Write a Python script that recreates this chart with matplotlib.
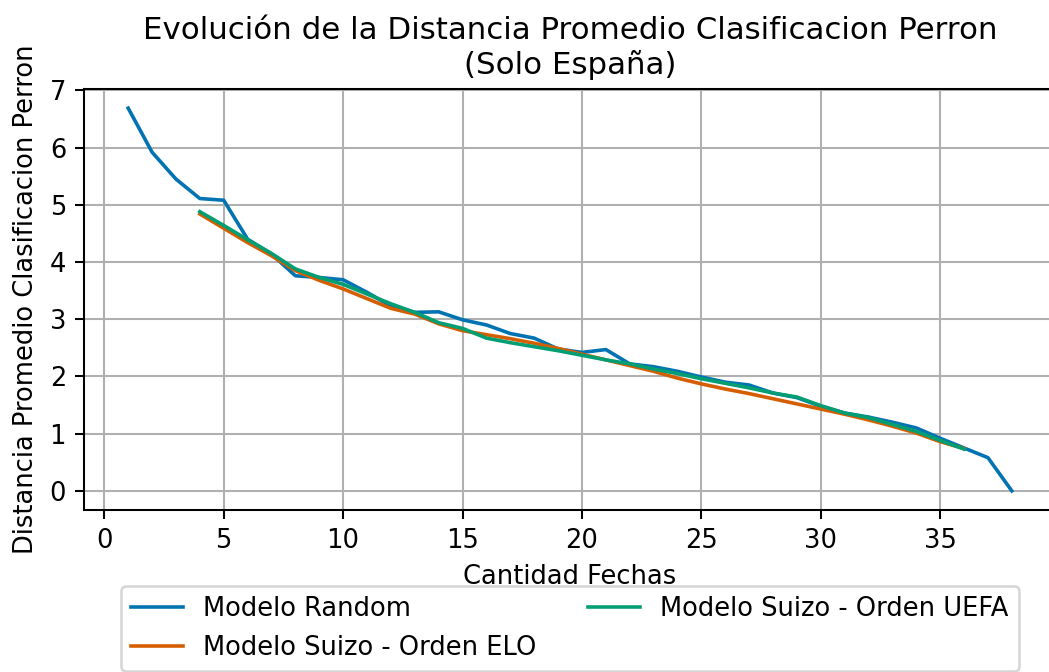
import matplotlib
matplotlib.use("Agg")
import matplotlib.pyplot as plt

fechas_random = list(range(1, 39))
random_vals = [6.69, 5.92, 5.45, 5.11, 5.08, 4.40, 4.14, 3.76, 3.73, 3.69,
               3.47, 3.23, 3.12, 3.13, 2.99, 2.90, 2.75, 2.67, 2.48, 2.42,
               2.47, 2.22, 2.17, 2.09, 1.99, 1.90, 1.85, 1.71, 1.63, 1.48,
               1.36, 1.29, 1.20, 1.10, 0.92, 0.75, 0.58, 0.00]

fechas_suizo = list(range(4, 37))
elo_vals = [4.84, 4.59, 4.34, 4.11, 3.85, 3.68, 3.53, 3.36, 3.19, 3.09,
            2.92, 2.80, 2.73, 2.66, 2.58, 2.49, 2.39, 2.29, 2.19, 2.09,
            1.97, 1.87, 1.78, 1.70, 1.61, 1.52, 1.43, 1.34, 1.24, 1.13,
            1.01, 0.86, 0.74]
uefa_vals = [4.88, 4.64, 4.39, 4.15, 3.88, 3.73, 3.61, 3.44, 3.27, 3.12,
             2.94, 2.84, 2.67, 2.59, 2.52, 2.45, 2.37, 2.29, 2.22, 2.13,
             2.05, 1.96, 1.88, 1.80, 1.71, 1.64, 1.49, 1.36, 1.28, 1.16,
             1.04, 0.88, 0.73]

labels = ["Modelo Random", "Modelo Suizo - Orden ELO", "Modelo Suizo - Orden UEFA"]
colors = ["#0173b2", "#d55e00", "#029e73"]

DPI = 185
fig = plt.figure(figsize=(1049 / DPI, 672 / DPI), dpi=DPI)
ax = fig.add_axes([84 / 1049, 1 - 510 / 672, (1056 - 84) / 1049, (510 - 89) / 672])

ax.plot(fechas_random, random_vals, color=colors[0], lw=1.4, label=labels[0])
ax.plot(fechas_suizo, elo_vals, color=colors[1], lw=1.4, label=labels[1])
ax.plot(fechas_suizo, uefa_vals, color=colors[2], lw=1.4, label=labels[2])

ax.grid(True)
ax.set_xlabel("Cantidad Fechas")
ax.set_ylabel("Distancia Promedio Clasificacion Perron")
ax.set_title("Evolución de la Distancia Promedio Clasificacion Perron\n(Solo España)")
ax.legend(loc="upper center", bbox_to_anchor=(0.5, -0.15), ncol=2)

fig.savefig("out.png", dpi=DPI)
